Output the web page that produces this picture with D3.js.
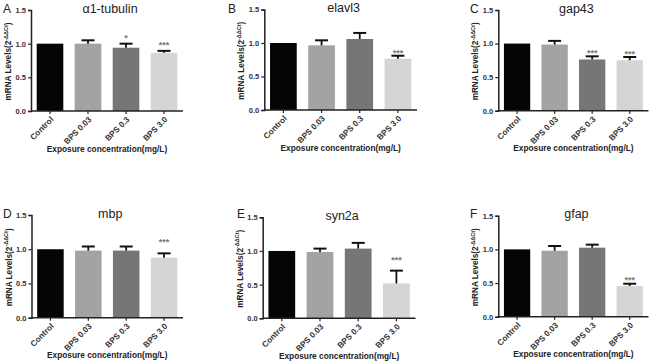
<!DOCTYPE html>
<html>
<head>
<meta charset="utf-8">
<script src="https://cdn.jsdelivr.net/npm/d3@7"></script>
<style>
  html, body { margin: 0; padding: 0; background: #fff; }
  svg { display: block; }
  text { font-family: "Liberation Sans", Arial, Helvetica, sans-serif; }
</style>
</head>
<body>
<svg id="chart" width="650" height="361"></svg>
<script>
// ---------- data ----------
const categories = ["Control", "BPS 0.03", "BPS 0.3", "BPS 3.0"];
const genes = ["α1-tubulin", "elavl3", "gap43", "mbp", "syn2a", "gfap"];
const panelLetters = ["A", "B", "C", "D", "E", "F"];
const yTicks = [0.0, 0.5, 1.0, 1.5];
const meanValues = [
  [1.0, 1.0, 0.94, 0.865],
  [1.0, 0.965, 1.06, 0.765],
  [1.0, 0.985, 0.763, 0.752],
  [1.0, 0.98, 0.98, 0.877],
  [1.0, 0.985, 1.035, 0.518],
  [1.0, 0.98, 1.025, 0.455]
];
const errorValues = [
  [0, 0.05, 0.06, 0.028],
  [0, 0.075, 0.09, 0.045],
  [0, 0.055, 0.047, 0.048],
  [0, 0.06, 0.06, 0.063],
  [0, 0.05, 0.085, 0.19],
  [0, 0.07, 0.045, 0.035]
];
const significance = [
  ["", "", "*", "***"],
  ["", "", "", "***"],
  ["", "", "***", "***"],
  ["", "", "", "***"],
  ["", "", "", "***"],
  ["", "", "", "***"]
];
const xAxisTitle = "Exposure concentration(mg/L)";

// ---------- layout ----------
const panels = [
  { x0: 31,    x1: 183,   yTop: 10,    yBot: 111,   letterX: 3,   letterY: 12.5,  starGap: 8 },
  { x0: 264.3, x1: 417,   yTop: 9.5,   yBot: 110,   letterX: 228, letterY: 12.5,  starGap: 5 },
  { x0: 498.3, x1: 648.5, yTop: 10,    yBot: 110.7, letterX: 470, letterY: 12.5,  starGap: 5 },
  { x0: 31.5,  x1: 183,   yTop: 215,   yBot: 317.7, letterX: 3,   letterY: 217.5, starGap: 13 },
  { x0: 262.7, x1: 415.5, yTop: 217.3, yBot: 318.3, letterX: 237, letterY: 218,   starGap: 13 },
  { x0: 498.3, x1: 648.5, yTop: 215.7, yBot: 316.7, letterX: 470, letterY: 218,   starGap: 6 }
];
const barColors = ["#050505", "#a3a3a3", "#767676", "#d5d5d5"];

const svg = d3.select("#chart");

panels.forEach((p, i) => {
  const g = svg.append("g");
  const x = d3.scaleBand().domain(categories).range([p.x0, p.x1])
    .paddingInner(0.3).paddingOuter(0.15);
  const y = d3.scaleLinear().domain([0, 1.5]).range([p.yBot, p.yTop]);

  const rows = categories.map((c, k) => ({
    cat: c, mean: meanValues[i][k], err: errorValues[i][k], sig: significance[i][k], k
  }));

  // bars
  g.selectAll("rect.bar").data(rows).join("rect")
    .attr("class", "bar")
    .attr("x", d => x(d.cat))
    .attr("width", x.bandwidth())
    .attr("y", d => y(d.mean))
    .attr("height", d => y(0) - y(d.mean))
    .attr("fill", d => barColors[d.k]);

  // error bars (upper only)
  const eb = rows.filter(d => d.err > 0);
  const capW = 13;
  g.selectAll("line.evert").data(eb).join("line")
    .attr("x1", d => x(d.cat) + x.bandwidth() / 2)
    .attr("x2", d => x(d.cat) + x.bandwidth() / 2)
    .attr("y1", d => y(d.mean))
    .attr("y2", d => y(d.mean + d.err))
    .attr("stroke", "#111").attr("stroke-width", 1.8);
  g.selectAll("line.ecap").data(eb).join("line")
    .attr("x1", d => x(d.cat) + x.bandwidth() / 2 - capW / 2)
    .attr("x2", d => x(d.cat) + x.bandwidth() / 2 + capW / 2)
    .attr("y1", d => y(d.mean + d.err))
    .attr("y2", d => y(d.mean + d.err))
    .attr("stroke", "#111").attr("stroke-width", 2);

  // significance stars
  g.selectAll("text.sig").data(rows.filter(d => d.sig)).join("text")
    .attr("x", d => x(d.cat) + x.bandwidth() / 2)
    .attr("y", d => y(d.mean + d.err) - p.starGap + 5)
    .attr("text-anchor", "middle")
    .attr("font-size", 9)
    .attr("font-weight", "bold")
    .attr("fill", "#777")
    .text(d => d.sig);

  // y axis
  const ya = g.append("g").attr("transform", `translate(${p.x0},0)`)
    .call(d3.axisLeft(y).tickValues(yTicks).tickFormat(d3.format(".1f")).tickSize(3).tickPadding(2));
  ya.select(".domain").attr("stroke", "#222").attr("stroke-width", 1.5);
  ya.selectAll(".tick line").attr("stroke", "#222").attr("stroke-width", 1.2);
  ya.selectAll(".tick text").attr("font-size", 7.5).attr("font-weight", "bold")
    .attr("fill", "#333").attr("font-family", "'Liberation Sans', Arial, sans-serif");

  // x axis
  const xa = g.append("g").attr("transform", `translate(0,${p.yBot})`)
    .call(d3.axisBottom(x).tickSize(3).tickSizeOuter(0));
  xa.select(".domain").attr("stroke", "#222").attr("stroke-width", 1.5)
    .attr("d", `M${p.x0},0H${p.x1}`);
  xa.selectAll(".tick line").attr("stroke", "#222").attr("stroke-width", 1.2);
  xa.selectAll(".tick text")
    .attr("font-size", 8.2).attr("font-weight", "bold").attr("fill", "#333")
    .attr("font-family", "'Liberation Sans', Arial, sans-serif")
    .attr("text-anchor", "end")
    .attr("y", 0).attr("dy", 0)
    .attr("transform", "translate(4,9) rotate(-45)");

  // y-axis label
  const ylab = g.append("text")
    .attr("transform", `translate(${p.x0 - 20},${(p.yTop + p.yBot) / 2 + 1}) rotate(-90)`)
    .attr("text-anchor", "middle")
    .attr("font-size", 8.2).attr("font-weight", "bold").attr("fill", "#222");
  ylab.append("tspan").text("mRNA Levels(2");
  ylab.append("tspan").attr("font-size", 5.5).attr("dy", -3.5).text("-ΔΔCt");
  ylab.append("tspan").attr("dy", 3.5).text(")");

  // x-axis title
  g.append("text")
    .attr("x", (p.x0 + p.x1) / 2)
    .attr("y", p.yBot + 40.5)
    .attr("text-anchor", "middle")
    .attr("font-size", 8.3).attr("font-weight", "bold").attr("fill", "#222")
    .text(xAxisTitle);

  // gene title
  g.append("text")
    .attr("x", (p.x0 + p.x1) / 2 + 3)
    .attr("y", p.yTop + 2.5)
    .attr("text-anchor", "middle")
    .attr("font-size", 12.5).attr("fill", "#222")
    .text(genes[i]);

  // panel letter
  g.append("text")
    .attr("x", p.letterX)
    .attr("y", p.letterY)
    .attr("font-size", 12).attr("fill", "#222")
    .text(panelLetters[i]);
});
</script>
</body>
</html>
